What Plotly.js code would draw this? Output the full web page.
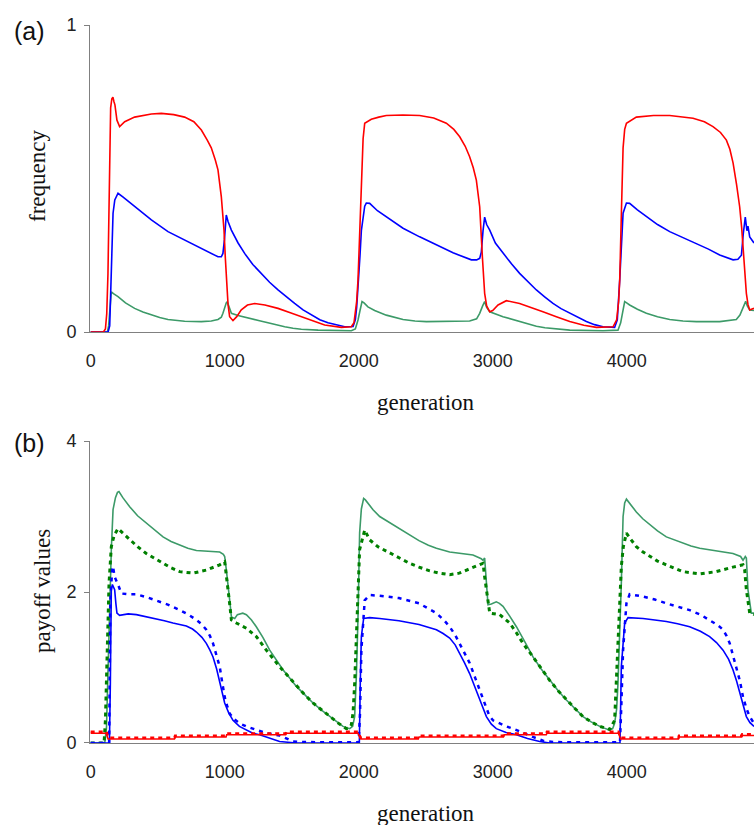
<!DOCTYPE html>
<html>
<head>
<meta charset="utf-8">
<script src="https://cdn.plot.ly/plotly-3.0.1.min.js"></script>
<style>
  html, body { margin: 0; padding: 0; background: #ffffff; }
  #chart { width: 754px; height: 825px; }
</style>
</head>
<body>
<div id="chart"></div>
<script>
// ---------- Panel (a): strategy frequencies ----------
const xTickVals = [0, 1000, 2000, 3000, 4000];
const xTickText = ['0', '1000', '2000', '3000', '4000'];

const freqRedGen = [0,95,110,120,129,142,149,158,166,174,181,196,216,254,328,453,527,620,701,770,826,870,900,930,950,975,995,1005,1012,1025,1037,1062,1090,1124,1170,1224,1300,1398,1490,1572,1660,1746,1871,1945,1965,1985,1995,2008,2020,2033,2045,2094,2150,2206,2330,2455,2560,2654,2710,2754,2795,2828,2855,2878,2903,2915,2923,2940,2955,2978,3000,3040,3102,3201,3290,3375,3475,3575,3680,3774,3898,3925,3940,3948,3960,3973,3985,3998,4072,4200,4321,4420,4495,4580,4644,4700,4744,4770,4794,4820,4843,4858,4868,4880,4893,4905,4918,4935,4950];
const freqRed = [0,0,0.01,0.06,0.19,0.55,0.73,0.76,0.765,0.75,0.74,0.69,0.669,0.685,0.70,0.71,0.712,0.708,0.70,0.685,0.658,0.625,0.60,0.56,0.528,0.44,0.332,0.24,0.17,0.09,0.05,0.037,0.05,0.072,0.088,0.093,0.088,0.077,0.063,0.05,0.035,0.023,0.015,0.017,0.03,0.1,0.17,0.33,0.495,0.63,0.68,0.693,0.70,0.705,0.707,0.705,0.697,0.68,0.66,0.636,0.605,0.571,0.535,0.495,0.408,0.33,0.245,0.126,0.085,0.066,0.07,0.088,0.102,0.093,0.08,0.066,0.05,0.034,0.022,0.015,0.017,0.04,0.1,0.17,0.38,0.60,0.66,0.68,0.70,0.705,0.705,0.70,0.696,0.685,0.669,0.65,0.625,0.595,0.55,0.48,0.408,0.34,0.278,0.2,0.126,0.09,0.072,0.075,0.077];

const freqBlueGen = [0,130,142,152,160,167,180,204,240,328,453,577,701,826,950,975,987,998,1005,1012,1025,1050,1100,1149,1210,1274,1335,1398,1460,1522,1585,1647,1710,1771,1840,1896,1958,1975,1985,1995,2010,2020,2032,2045,2057,2082,2140,2206,2331,2455,2579,2704,2841,2880,2903,2915,2928,2940,2955,2978,3020,3077,3140,3201,3265,3326,3390,3450,3510,3575,3640,3699,3760,3823,3910,3930,3948,3960,3973,3998,4022,4080,4147,4230,4321,4420,4520,4610,4694,4760,4794,4830,4856,4870,4885,4897,4905,4918,4950];
const freqBlue = [0,0,0.02,0.15,0.3,0.387,0.43,0.452,0.44,0.408,0.365,0.327,0.30,0.273,0.245,0.245,0.256,0.3,0.36,0.381,0.36,0.332,0.29,0.256,0.22,0.191,0.162,0.137,0.114,0.093,0.072,0.055,0.04,0.030,0.022,0.017,0.018,0.04,0.08,0.137,0.25,0.33,0.365,0.41,0.42,0.419,0.395,0.376,0.338,0.31,0.283,0.258,0.235,0.235,0.24,0.26,0.33,0.374,0.35,0.332,0.29,0.256,0.222,0.191,0.162,0.137,0.114,0.093,0.076,0.061,0.046,0.034,0.024,0.017,0.015,0.04,0.17,0.3,0.387,0.42,0.419,0.398,0.376,0.35,0.327,0.307,0.289,0.27,0.251,0.24,0.235,0.237,0.25,0.32,0.374,0.33,0.345,0.31,0.29];

const freqGreenGen = [0,125,134,145,154,170,204,260,328,390,453,515,577,640,701,826,900,950,975,987,1000,1012,1019,1030,1050,1100,1199,1260,1323,1385,1448,1510,1572,1697,1945,1975,1995,2010,2025,2040,2069,2119,2206,2331,2420,2505,2704,2828,2880,2903,2925,2940,2955,2978,3077,3140,3201,3265,3326,3390,3450,3575,3823,3935,3955,3970,3985,4000,4022,4080,4147,4230,4321,4420,4520,4694,4760,4818,4845,4863,4878,4888,4900,4918,4950];
const freqGreen = [0,0,0.02,0.09,0.131,0.125,0.115,0.095,0.077,0.065,0.055,0.047,0.041,0.037,0.035,0.034,0.036,0.041,0.048,0.061,0.08,0.095,0.099,0.085,0.061,0.054,0.045,0.037,0.030,0.023,0.017,0.012,0.009,0.006,0.004,0.01,0.039,0.07,0.099,0.095,0.082,0.07,0.055,0.041,0.036,0.034,0.034,0.036,0.043,0.061,0.085,0.099,0.08,0.066,0.05,0.042,0.034,0.026,0.019,0.014,0.011,0.006,0.004,0.006,0.03,0.07,0.099,0.095,0.088,0.074,0.061,0.05,0.041,0.036,0.034,0.034,0.037,0.041,0.055,0.072,0.09,0.10,0.085,0.072,0.07];

// ---------- Panel (b): payoff values ----------
const payGreenSolidGen = [0,105,118,129,140,154,167,185,200,211,240,291,350,415,480,540,600,664,725,789,880,963,990,1000,1012,1025,1040,1050,1075,1095,1112,1135,1162,1200,1236,1285,1336,1385,1435,1485,1535,1597,1659,1720,1784,1835,1883,1933,1955,1970,1983,1995,2007,2020,2037,2050,2107,2157,2230,2300,2380,2450,2520,2580,2679,2770,2853,2915,2928,2940,2953,2965,2990,3027,3050,3077,3127,3177,3240,3301,3362,3425,3490,3550,3612,3674,3735,3799,3873,3895,3910,3925,3935,3948,3960,3973,3985,3998,4030,4072,4120,4172,4230,4296,4360,4420,4480,4545,4609,4669,4730,4793,4850,4868,4885,4893,4905,4918,4930,4950];
const payGreenSolid = [0,0,0.2,0.88,1.8,2.56,3.09,3.25,3.32,3.33,3.25,3.13,3.01,2.91,2.81,2.73,2.67,2.62,2.58,2.55,2.54,2.53,2.5,2.47,2.3,2.12,1.85,1.67,1.65,1.70,1.71,1.72,1.70,1.63,1.54,1.4,1.23,1.1,0.97,0.86,0.75,0.64,0.53,0.44,0.35,0.28,0.22,0.19,0.22,0.35,0.9,1.67,2.78,3.1,3.24,3.22,3.09,3.0,2.92,2.84,2.76,2.68,2.62,2.58,2.53,2.51,2.49,2.44,2.42,2.45,2.12,1.83,1.84,1.87,1.85,1.81,1.68,1.54,1.34,1.14,0.98,0.83,0.69,0.57,0.46,0.35,0.28,0.22,0.17,0.19,0.26,0.45,0.79,1.4,2.12,3.0,3.18,3.23,3.15,3.06,2.97,2.89,2.81,2.73,2.69,2.65,2.61,2.58,2.56,2.54,2.52,2.51,2.47,2.42,2.47,2.45,2.03,1.85,1.72,1.72];

const payGreenDotGen = [0,100,110,117,127,137,154,175,204,240,291,350,415,480,540,600,664,764,863,963,1000,1012,1025,1040,1050,1087,1162,1236,1311,1410,1475,1535,1597,1659,1720,1784,1850,1908,1930,1945,1958,1970,1990,2007,2045,2082,2144,2230,2300,2380,2450,2530,2600,2679,2750,2803,2870,2928,2940,2953,2978,3052,3127,3177,3226,3301,3362,3425,3490,3550,3612,3674,3735,3799,3873,3910,3935,3960,3975,3998,4030,4072,4122,4172,4230,4296,4360,4420,4545,4669,4793,4868,4880,4893,4918,4950];
const payGreenDot = [0,0,0.3,0.79,1.5,2.12,2.6,2.75,2.84,2.78,2.69,2.6,2.51,2.44,2.38,2.32,2.27,2.25,2.29,2.36,2.40,2.25,2.03,1.8,1.63,1.59,1.52,1.41,1.23,1.01,0.88,0.75,0.64,0.53,0.44,0.35,0.26,0.19,0.2,0.24,0.4,0.79,1.89,2.56,2.82,2.69,2.6,2.52,2.45,2.38,2.33,2.28,2.25,2.23,2.25,2.29,2.33,2.38,2.2,2.03,1.72,1.70,1.59,1.46,1.32,1.14,0.98,0.83,0.69,0.57,0.46,0.35,0.28,0.22,0.18,0.30,1.23,2.34,2.6,2.78,2.7,2.60,2.53,2.47,2.41,2.36,2.31,2.27,2.24,2.27,2.33,2.36,2.3,2.03,1.72,1.70];

const payBlueSolidGen = [0,140,147,154,162,172,179,188,196,216,280,341,420,490,550,614,714,760,789,830,863,890,913,940,963,980,1000,1030,1062,1110,1162,1210,1261,1335,1410,1535,2005,2012,2020,2037,2082,2157,2300,2450,2580,2630,2679,2720,2754,2790,2828,2870,2903,2930,2953,2990,3027,3100,3177,3260,3351,3425,3950,3960,3985,4010,4122,4210,4296,4380,4470,4550,4619,4670,4719,4760,4793,4820,4843,4868,4893,4920,4950];
const payBlueSolid = [0,0,0.8,2.03,2.1,2.07,2.03,1.85,1.72,1.69,1.71,1.70,1.67,1.65,1.62,1.59,1.55,1.51,1.47,1.40,1.32,1.23,1.14,0.98,0.79,0.66,0.53,0.40,0.30,0.22,0.17,0.13,0.11,0.06,0.02,0.0,0.0,0.8,1.41,1.65,1.66,1.65,1.62,1.57,1.50,1.45,1.39,1.3,1.19,1.06,0.92,0.73,0.57,0.45,0.35,0.25,0.19,0.14,0.11,0.06,0.02,0.0,0.0,1.01,1.59,1.66,1.65,1.63,1.61,1.58,1.54,1.48,1.41,1.33,1.23,1.11,0.97,0.82,0.66,0.5,0.35,0.27,0.22];

const payBlueDotGen = [0,138,147,155,162,170,179,204,229,280,341,420,490,580,664,730,789,830,863,890,913,940,963,980,1000,1020,1037,1075,1112,1160,1211,1260,1311,1360,1410,1460,1510,1560,1659,2000,2010,2020,2045,2082,2157,2300,2450,2580,2640,2679,2720,2754,2790,2828,2870,2903,2930,2953,2975,3002,3050,3102,3165,3226,3300,3376,3450,3525,3950,3960,3973,3998,4022,4122,4210,4296,4380,4470,4550,4619,4680,4719,4745,4769,4795,4818,4845,4868,4895,4918,4950];
const payBlueDot = [0,0,1.89,2.2,2.34,2.3,2.2,2.1,1.98,1.97,1.97,1.93,1.89,1.83,1.76,1.70,1.63,1.57,1.50,1.42,1.32,1.16,1.01,0.82,0.61,0.48,0.39,0.31,0.26,0.22,0.19,0.16,0.13,0.115,0.10,0.06,0.02,0.012,0.01,0.01,0.4,1.23,1.89,1.96,1.95,1.92,1.85,1.72,1.62,1.54,1.43,1.32,1.2,1.06,0.86,0.70,0.55,0.44,0.36,0.30,0.26,0.22,0.18,0.13,0.08,0.03,0.015,0.01,0.01,0.5,1.23,1.85,1.97,1.94,1.9,1.85,1.81,1.76,1.70,1.63,1.56,1.50,1.42,1.32,1.16,1.01,0.82,0.61,0.45,0.35,0.26];

const payRedSolidGen = [0,115,130,625,630,1010,1015,1455,1460,1995,2015,2445,2450,3080,3085,3400,3405,3938,3955,4386,4390,4858,4862,4950];
const payRedSolid = [0.13,0.13,0.053,0.053,0.08,0.08,0.11,0.11,0.13,0.13,0.053,0.053,0.08,0.08,0.11,0.11,0.13,0.13,0.053,0.053,0.08,0.08,0.10,0.10];

const payRedDotGen = [0,118,132,625,630,1010,1015,1455,1460,1995,2015,2445,2450,3080,3085,3400,3405,3938,3955,4386,4390,4858,4862,4950];
const payRedDot = [0.15,0.15,0.07,0.07,0.095,0.095,0.125,0.125,0.15,0.15,0.07,0.07,0.095,0.095,0.125,0.125,0.15,0.15,0.07,0.07,0.095,0.095,0.115,0.115];

// ---------- styling ----------
const RED = '#ff0000', BLUE = '#0000ff', SEA = '#3c9a68', DKGREEN = '#008000';
const AXIS = '#808080';
const SANS = 'Liberation Sans, Arial, sans-serif';
const SERIF = 'Liberation Serif, Times New Roman, serif';

function line(x, y, color, width, dash, xa, ya) {
  return {
    type: 'scatter', mode: 'lines', x: x, y: y,
    xaxis: xa, yaxis: ya, cliponaxis: false, hoverinfo: 'skip',
    line: { color: color, width: width, dash: dash || 'solid', shape: 'linear' }
  };
}

const traces = [
  line(freqGreenGen, freqGreen, SEA, 1.6, 'solid', 'x', 'y'),
  line(freqBlueGen, freqBlue, BLUE, 1.6, 'solid', 'x', 'y'),
  line(freqRedGen, freqRed, RED, 1.6, 'solid', 'x', 'y'),
  line(payGreenSolidGen, payGreenSolid, SEA, 1.6, 'solid', 'x2', 'y2'),
  line(payGreenDotGen, payGreenDot, DKGREEN, 3, '4px,4px', 'x2', 'y2'),
  line(payBlueSolidGen, payBlueSolid, BLUE, 1.6, 'solid', 'x2', 'y2'),
  line(payBlueDotGen, payBlueDot, BLUE, 2.5, '4px,5px', 'x2', 'y2'),
  line(payRedSolidGen, payRedSolid, RED, 1.6, 'solid', 'x2', 'y2'),
  line(payRedDotGen, payRedDot, RED, 2.5, '4px,4px', 'x2', 'y2')
];

const tickFont = { family: SANS, size: 18, color: '#222222' };

function xAxis(anchor) {
  return {
    anchor: anchor, domain: [0, 1], range: [-5, 4950],
    showline: true, linecolor: AXIS, linewidth: 1,
    showgrid: false, zeroline: false,
    tickmode: 'array', tickvals: xTickVals, ticktext: xTickText,
    ticks: '', ticklabelstandoff: 12, tickfont: tickFont, fixedrange: true
  };
}
function yAxis(anchor, domain, range, vals) {
  return {
    anchor: anchor, domain: domain, range: range,
    showline: true, linecolor: AXIS, linewidth: 1,
    showgrid: false, zeroline: false,
    tickmode: 'array', tickvals: vals, ticktext: vals.map(String),
    ticks: 'outside', ticklen: 5, tickcolor: AXIS, tickwidth: 1,
    ticklabelstandoff: 4,
    tickfont: tickFont, fixedrange: true
  };
}

const layout = {
  width: 754, height: 825,
  margin: { l: 90, r: 0, t: 25, b: 82 },
  paper_bgcolor: '#ffffff', plot_bgcolor: '#ffffff',
  showlegend: false,
  xaxis: xAxis('y'),
  yaxis: yAxis('x', [0.5724, 1], [0, 1], [0, 1]),
  xaxis2: xAxis('y2'),
  yaxis2: yAxis('x2', [0, 0.4206], [0, 4], [0, 2, 4]),
  annotations: [
    { text: '(a)', xref: 'paper', yref: 'paper', x: -0.0904, y: 0.9916, xanchor: 'center', yanchor: 'middle', showarrow: false, font: { family: SANS, size: 25, color: '#111111' } },
    { text: '(b)', xref: 'paper', yref: 'paper', x: -0.0904, y: 0.4178, xanchor: 'center', yanchor: 'middle', showarrow: false, font: { family: SANS, size: 25, color: '#111111' } },
    { text: 'frequency', xref: 'paper', yref: 'paper', x: -0.0783, y: 0.7897, xanchor: 'center', yanchor: 'middle', textangle: -90, showarrow: false, font: { family: SERIF, size: 23, color: '#111111' } },
    { text: 'payoff values', xref: 'paper', yref: 'paper', x: -0.0708, y: 0.2117, xanchor: 'center', yanchor: 'middle', textangle: -90, showarrow: false, font: { family: SERIF, size: 23, color: '#111111' } },
    { text: 'generation', xref: 'paper', yref: 'paper', x: 0.506, y: 0.474, xanchor: 'center', yanchor: 'middle', showarrow: false, font: { family: SERIF, size: 23, color: '#111111' } },
    { text: 'generation', xref: 'paper', yref: 'paper', x: 0.506, y: -0.0975, xanchor: 'center', yanchor: 'middle', showarrow: false, font: { family: SERIF, size: 23, color: '#111111' } }
  ]
};

Plotly.newPlot('chart', traces, layout, { staticPlot: true, displayModeBar: false });
</script>
</body>
</html>
